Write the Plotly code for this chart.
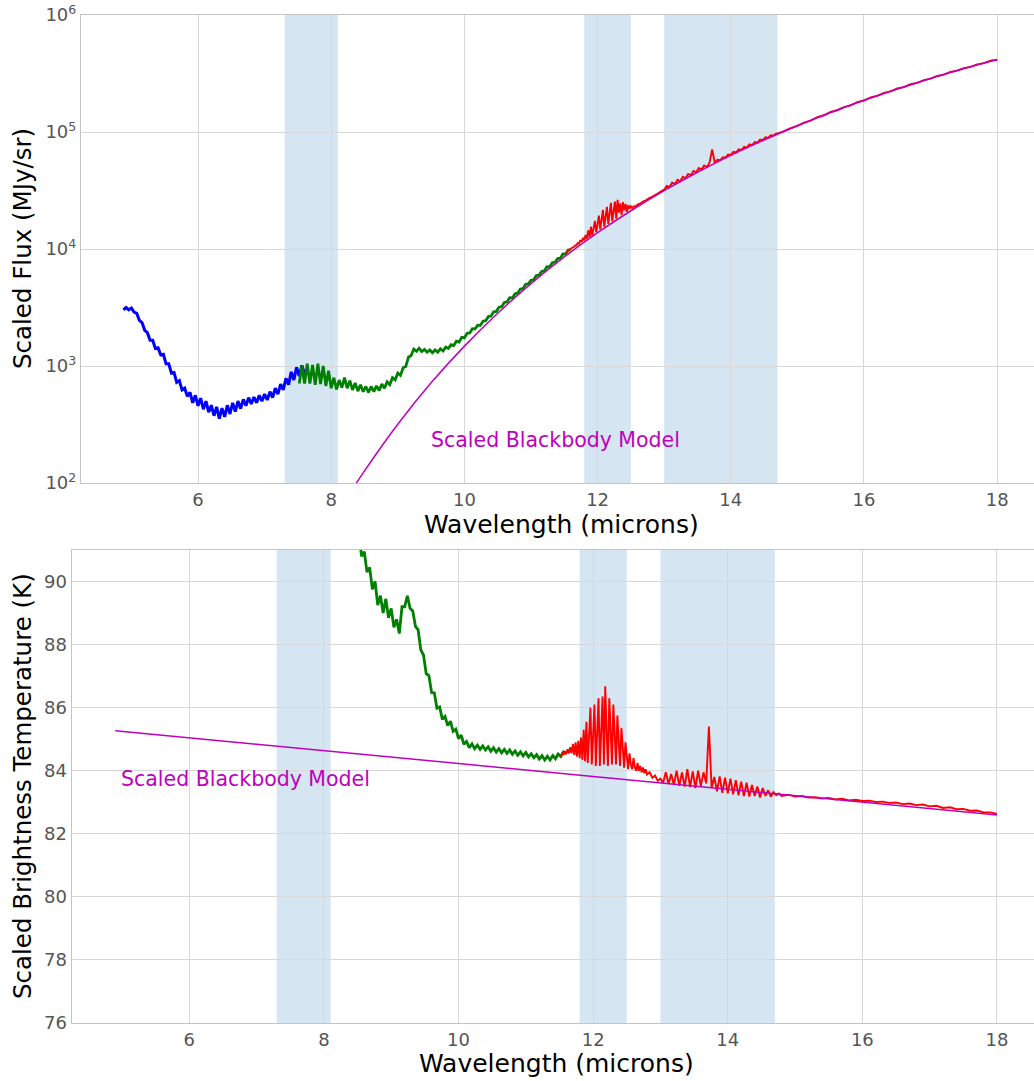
import plotly.graph_objects as go

# ---------------- data ----------------
wave_blue = [4.88, 4.92, 4.96, 5.00, 5.04, 5.08, 5.12, 5.16, 5.20, 5.24, 5.28, 5.32, 5.36, 5.40,
             5.44, 5.48, 5.52, 5.56, 5.60, 5.64, 5.68, 5.72, 5.76, 5.80, 5.84, 5.88, 5.92, 5.96,
             6.00, 6.04, 6.08, 6.12, 6.16, 6.20, 6.24, 6.28, 6.32, 6.36, 6.40, 6.44, 6.48, 6.52,
             6.56, 6.60, 6.64, 6.68, 6.72, 6.76, 6.80, 6.84, 6.88, 6.92, 6.96, 7.00, 7.04, 7.08,
             7.12, 7.16, 7.20, 7.24, 7.28, 7.32, 7.36, 7.40, 7.44, 7.48, 7.52, 7.56, 7.60]
flux_blue = [3020, 3162, 3020, 3126, 2884, 2818, 2455, 2344, 2018, 1928,
             1660, 1660, 1413, 1429, 1245, 1259, 1047, 1047, 871, 881,
             724, 750, 624, 646, 550, 596, 484, 562, 457, 531,
             427, 501, 403, 462, 376, 447, 355, 437, 367, 462,
             389, 484, 407, 501, 432, 519, 457, 537, 473, 543,
             484, 562, 501, 575, 513, 603, 537, 646, 575, 700,
             624, 785, 692, 891, 759, 977, 822, 1012, 851]

wave_green = [7.52, 7.56, 7.60, 7.64, 7.68, 7.72, 7.76, 7.80, 7.84, 7.88,
              7.92, 7.96, 8.00, 8.04, 8.08, 8.12, 8.16, 8.20, 8.24, 8.28,
              8.32, 8.36, 8.40, 8.44, 8.48, 8.52, 8.56, 8.60, 8.64, 8.68,
              8.72, 8.76, 8.80, 8.84, 8.88, 8.92, 8.96, 9.00, 9.04, 9.08,
              9.12, 9.16, 9.20, 9.24, 9.28, 9.32, 9.36, 9.40, 9.44, 9.48,
              9.52, 9.56, 9.60, 9.64, 9.68, 9.72, 9.76, 9.80, 9.84, 9.88,
              9.92, 9.96, 10.00, 10.04, 10.08, 10.12, 10.16, 10.20, 10.24, 10.28,
              10.32, 10.36, 10.40, 10.44, 10.48, 10.52, 10.56, 10.60, 10.64, 10.68,
              10.72, 10.76, 10.80, 10.84, 10.88, 10.92, 10.96, 11.00, 11.04, 11.08,
              11.12, 11.16, 11.20, 11.24, 11.28, 11.32, 11.36, 11.40, 11.44, 11.48,
              11.52, 11.56, 11.60]
flux_green = [708, 1000, 708, 1047, 708, 1023, 692, 1047, 700, 1000,
              676, 912, 646, 794, 631, 759, 653, 794, 646, 750,
              624, 716, 610, 692, 603, 668, 596, 668, 603, 676,
              617, 700, 646, 733, 692, 794, 759, 871, 832, 966,
              989, 1189, 1230, 1396, 1334, 1419, 1327, 1387, 1312, 1371,
              1297, 1371, 1312, 1403, 1343, 1452, 1413, 1521, 1496, 1629,
              1603, 1758, 1738, 1905, 1914, 2080, 2075, 2228, 2223, 2415,
              2438, 2649, 2673, 2904, 2931, 3184, 3214, 3491, 3524, 3828,
              3819, 4150, 4188, 4550, 4592, 4989, 5035, 5408, 5458, 5929,
              5984, 6427, 6486, 7047, 7031, 7638, 7709, 8279, 8356, 9078,
              9057, 9840, 9817]

wave_red = [11.52, 11.54, 11.56, 11.58, 11.60, 11.62, 11.64, 11.66, 11.68, 11.70,
            11.72, 11.74, 11.76, 11.78, 11.80, 11.82, 11.84, 11.86, 11.88, 11.90,
            11.92, 11.94, 11.96, 11.98, 12.00, 12.02, 12.04, 12.06, 12.08, 12.10,
            12.12, 12.14, 12.16, 12.18, 12.20, 12.22, 12.24, 12.26, 12.28, 12.30,
            12.32, 12.34, 12.36, 12.38, 12.40, 12.42, 12.44, 12.46, 12.48, 12.50,
            12.52, 12.54, 12.56, 12.58, 12.60, 12.62, 12.64, 12.66, 12.68, 12.70,
            12.72, 12.74, 12.76, 12.78, 12.80,
            12.84, 12.88, 12.92, 12.96, 13.00, 13.04, 13.08, 13.12, 13.16, 13.20,
            13.24, 13.28, 13.32, 13.36, 13.40, 13.44, 13.48, 13.52, 13.56, 13.60,
            13.64, 13.68, 13.72, 13.76, 13.80, 13.84, 13.88, 13.92, 13.96, 14.00,
            14.04, 14.08, 14.12, 14.16, 14.20, 14.24, 14.28, 14.32, 14.36, 14.40,
            14.44, 14.48, 14.52, 14.56, 14.60, 14.64, 14.68, 14.72, 14.76, 14.80,
            14.9, 15.0, 15.1, 15.2, 15.3, 15.4, 15.5, 15.6, 15.7, 15.8,
            15.9, 16.0, 16.1, 16.2, 16.3, 16.4, 16.5, 16.6, 16.7, 16.8,
            16.9, 17.0, 17.1, 17.2, 17.3, 17.4, 17.5, 17.6, 17.7, 17.8,
            17.9, 18.0]
flux_red = [9226, 9441, 9594, 9886, 9954, 10280, 10350, 10720, 10720, 11220,
            11090, 11890, 11480, 12450, 11890, 13180, 12250, 14450, 12590, 15490,
            13030, 15140, 17380, 13960, 15850, 19280, 14720, 17180, 21630, 15490,
            18620, 22910, 16410, 20420, 24830, 17260, 21380, 25410, 18200, 26300,
            20420, 24550, 19500, 25120, 21380, 24270, 20800, 23710, 22130, 23170,
            22280, 23170, 23010, 23550, 23710, 24270, 24430, 25000, 25120, 25820,
            25940, 26550, 26730, 27350, 27540,
            28580, 29380, 30270, 31260, 32210, 34670, 33810, 36900, 35810, 39080,
            37930, 41400, 40180, 43850, 42660, 46450, 45190, 49090, 47640, 51760,
            50230, 54330, 70790, 54330, 57810, 57280, 60950, 60390, 64270, 63680,
            67760, 66830, 71120, 70150, 74640, 73620, 78340, 77270, 82220, 81100,
            86100, 85110, 90160, 89130, 93760, 93110, 96600, 97720, 99540, 101860,
            108100, 112700, 120500, 125300, 133700, 139000, 148300, 153500, 163300, 169000,
            179900, 185800, 197200, 203700, 215800, 222300, 235500, 242100, 255900, 263000,
            278000, 285800, 301300, 309000, 325800, 334200, 351600, 359700, 378400, 387300,
            406400, 415000]

wave_bb = [8.0, 8.3, 8.5, 9.0, 9.5, 10.0, 10.5, 11.0, 11.5, 12.0, 12.5,
           13.0, 13.5, 14.0, 14.5, 15.0, 15.5, 16.0, 16.5, 17.0, 17.5, 18.0]
flux_bb = [44.9, 85.1, 127, 318, 718, 1479, 2825, 5058, 8551, 13770, 21230,
           31550, 45290, 63100, 85500, 113200, 146900, 186600, 233300, 287100, 348300, 416900]

# brightness temperature (bottom panel)
wave_green_t = wave_green[25:]          # 8.52 ... 11.60
temp_green = [91.5, 90.8, 90.95, 90.3, 90.45, 89.75, 90.0, 89.25, 89.55, 89.0,
              89.45, 88.85, 89.15, 88.55, 88.8, 88.35, 89.2, 89.2, 89.55, 89.15,
              89.07, 88.58, 88.47, 87.83, 87.67, 87.08, 87.02, 86.48, 86.47, 85.98,
              86.02, 85.63, 85.72, 85.43, 85.57, 85.25, 85.32, 85.02, 85.13, 84.84,
              84.93, 84.73, 84.85, 84.70, 84.81, 84.68, 84.79, 84.66, 84.76, 84.62,
              84.73, 84.59, 84.70, 84.57, 84.68, 84.55, 84.66, 84.52, 84.63, 84.49,
              84.60, 84.47, 84.58, 84.44, 84.54, 84.41, 84.51, 84.37, 84.48, 84.34,
              84.46, 84.34, 84.48, 84.38, 84.53, 84.45, 84.60, 84.55]
temp_red = [84.45, 84.55, 84.50, 84.62, 84.52, 84.68, 84.55, 84.75, 84.55, 84.85,
            84.50, 84.90, 84.45, 84.95, 84.40, 85.05, 84.35, 85.30, 84.30, 85.55,
            84.25, 85.00, 86.00, 84.20, 85.10, 86.10, 84.15, 85.20, 86.30, 84.15,
            85.30, 86.35, 84.20, 86.68, 85.20, 84.15, 86.30, 85.10, 84.20, 86.10,
            84.95, 84.20, 85.75, 84.80, 84.15, 85.35, 84.60, 84.10, 84.90, 84.40,
            84.05, 84.55, 84.20, 84.05, 84.40, 84.10, 84.00, 84.25, 84.00, 84.15,
            83.95, 84.10, 83.92, 84.05, 83.88,
            83.95, 83.78, 83.85, 83.68, 83.75, 83.62, 83.95, 83.58, 83.90, 83.55,
            84.00, 83.52, 83.95, 83.50, 84.05, 83.48, 83.98, 83.45, 84.00, 83.52,
            83.95, 83.60, 85.40, 83.45, 83.80, 83.35, 83.82, 83.30, 83.78, 83.28,
            83.75, 83.25, 83.70, 83.22, 83.65, 83.20, 83.62, 83.18, 83.55, 83.20,
            83.50, 83.15, 83.45, 83.20, 83.38, 83.18, 83.32, 83.22, 83.28, 83.20,
            83.24, 83.18, 83.20, 83.15, 83.16, 83.12, 83.14, 83.09, 83.11, 83.06,
            83.08, 83.04, 83.05, 83.01, 83.02, 82.98, 82.99, 82.94, 82.96, 82.91,
            82.93, 82.87, 82.89, 82.82, 82.84, 82.78, 82.79, 82.73, 82.74, 82.68,
            82.68, 82.63]
wave_bb_t = [4.9, 6.0, 8.0, 10.0, 12.0, 14.0, 16.0, 18.0]
temp_bb = [85.27, 85.05, 84.64, 84.23, 83.82, 83.42, 83.01, 82.60]

spans = [(7.3, 8.1), (11.8, 12.5), (13.0, 14.7)]
x_ticks = [6, 8, 10, 12, 14, 16, 18]
flux_ticks = [1e2, 1e3, 1e4, 1e5, 1e6]
flux_tick_text = ["10<sup>2</sup>", "10<sup>3</sup>", "10<sup>4</sup>", "10<sup>5</sup>", "10<sup>6</sup>"]
temp_ticks = [76, 78, 80, 82, 84, 86, 88, 90]

# ---------------- figure ----------------
W, H = 1034, 1081
FONT = "DejaVu Sans"
BLUE, GREEN, RED, MAG = "#0000ff", "#008000", "#ff0000", "#bf00bf"

fig = go.Figure()
fig.add_trace(go.Scatter(x=wave_blue, y=flux_blue, mode="lines", line=dict(color=BLUE, width=3.0), xaxis="x", yaxis="y"))
fig.add_trace(go.Scatter(x=wave_green, y=flux_green, mode="lines", line=dict(color=GREEN, width=2.8), xaxis="x", yaxis="y"))
fig.add_trace(go.Scatter(x=wave_red, y=flux_red, mode="lines", line=dict(color=RED, width=1.9), xaxis="x", yaxis="y"))
fig.add_trace(go.Scatter(x=wave_bb, y=flux_bb, mode="lines", line=dict(color=MAG, width=1.5, shape="spline"), xaxis="x", yaxis="y"))

fig.add_trace(go.Scatter(x=wave_green_t, y=temp_green, mode="lines", line=dict(color=GREEN, width=2.8), xaxis="x2", yaxis="y2"))
fig.add_trace(go.Scatter(x=wave_red, y=temp_red, mode="lines", line=dict(color=RED, width=1.9), xaxis="x2", yaxis="y2"))
fig.add_trace(go.Scatter(x=wave_bb_t, y=temp_bb, mode="lines", line=dict(color=MAG, width=1.5), xaxis="x2", yaxis="y2"))

shapes = []
for a, b in spans:
    for xr, yr in (("x", "y domain"), ("x2", "y2 domain")):
        shapes.append(dict(type="rect", xref=xr, yref=yr, x0=a, x1=b, y0=0, y1=1,
                           fillcolor="rgba(31,119,180,0.19)", line=dict(width=0), layer="below"))

grid = dict(showgrid=True, gridcolor="#d8d8d8", gridwidth=1.2, zeroline=False,
            showline=True, linecolor="#c4c4c4", linewidth=1.2, ticks="", automargin=False,
            tickfont=dict(family=FONT, size=18, color="#555555"))


def px_x(p):
    return p / W


def px_y(p):
    return (H - p) / H


annotations = [
    dict(text="Wavelength (microns)", xref="paper", yref="paper", x=px_x(561), y=px_y(524),
         xanchor="center", yanchor="middle", showarrow=False, font=dict(family=FONT, size=25, color="#000000")),
    dict(text="Wavelength (microns)", xref="paper", yref="paper", x=px_x(556), y=px_y(1063),
         xanchor="center", yanchor="middle", showarrow=False, font=dict(family=FONT, size=25, color="#000000")),
    dict(text="Scaled Flux (MJy/sr)", xref="paper", yref="paper", x=px_x(22), y=px_y(249), textangle=-90,
         xanchor="center", yanchor="middle", showarrow=False, font=dict(family=FONT, size=24.5, color="#000000")),
    dict(text="Scaled Brightness Temperature (K)", xref="paper", yref="paper", x=px_x(22), y=px_y(786),
         textangle=-90, xanchor="center", yanchor="middle", showarrow=False,
         font=dict(family=FONT, size=24.5, color="#000000")),
    dict(text="Scaled Blackbody Model", xref="x", yref="y", x=9.47, y=2.368, xanchor="left", yanchor="middle",
         showarrow=False, font=dict(family=FONT, size=20.5, color=MAG)),
    dict(text="Scaled Blackbody Model", xref="x2", yref="y2", x=4.96, y=83.75, xanchor="left", yanchor="middle",
         showarrow=False, font=dict(family=FONT, size=20.5, color=MAG)),
]

fig.update_layout(
    width=W, height=H, margin=dict(l=0, r=0, t=0, b=0, autoexpand=False),
    paper_bgcolor="white", plot_bgcolor="white", showlegend=False,
    font=dict(family=FONT),
    xaxis=dict(domain=[81 / W, 1.0], range=[4.243, 18.553], anchor="y", tickvals=x_ticks,
               mirror=True, **grid),
    yaxis=dict(domain=[px_y(483), px_y(15)], type="log", range=[2, 6], anchor="x",
               tickvals=flux_ticks, ticktext=flux_tick_text, **grid),
    xaxis2=dict(domain=[71.7 / W, 1.0], range=[4.253, 18.55], anchor="y2", tickvals=x_ticks,
                mirror=True, **grid),
    yaxis2=dict(domain=[px_y(1023), px_y(550)], range=[76, 91], anchor="x2", tickvals=temp_ticks, **grid),
    shapes=shapes,
    annotations=annotations,
)

fig.write_html("out.html")
